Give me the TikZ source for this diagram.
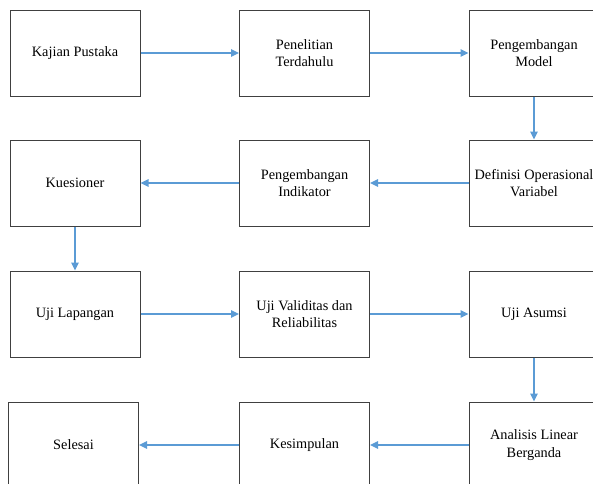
\documentclass[tikz,border=0pt]{standalone}
\usepackage{fontspec}
\setmainfont{Liberation Serif}
\usetikzlibrary{arrows.meta}
\definecolor{arrowblue}{RGB}{91,155,213}
\definecolor{boxgray}{RGB}{64,64,64}
\begin{document}
\begin{tikzpicture}[x=1pt,y=-1pt,
  box/.style={draw=boxgray,line width=1pt,minimum width=130pt,minimum height=86pt,
    inner sep=0pt,align=center,font=\fontsize{14.3}{17.4}\selectfont,text=black},
  link/.style={draw=arrowblue,line width=1.4pt,-{Triangle[length=8pt,width=7.5pt]}}]
\clip (0,0) rectangle (593,483);
\useasboundingbox (0,0) rectangle (593,483);
\node[box] (kp) at (75,53) {Kajian Pustaka};
\node[box] (pt) at (304.5,53) {Penelitian\\Terdahulu};
\node[box] (pm) at (534,53) {Pengembangan\\Model};
\node[box] (dov) at (534,183) {Definisi Operasional\\Variabel};
\node[box] (pi) at (304.5,183) {Pengembangan\\Indikator};
\node[box] (ku) at (75,183) {Kuesioner};
\node[box] (ul) at (75,314) {Uji Lapangan};
\node[box] (uv) at (304.5,314) {Uji Validitas dan\\Reliabilitas};
\node[box] (ua) at (534,314) {Uji Asumsi};
\node[box] (al) at (534,445) {Analisis Linear\\Berganda};
\node[box] (ke) at (304.5,445) {Kesimpulan};
\node[box] (se) at (73.5,445) {Selesai};
\draw[link] (kp) -- (pt);
\draw[link] (pt) -- (pm);
\draw[link] (pm) -- (dov);
\draw[link] (dov) -- (pi);
\draw[link] (pi) -- (ku);
\draw[link] (ku) -- (ul);
\draw[link] (ul) -- (uv);
\draw[link] (uv) -- (ua);
\draw[link] (ua) -- (al);
\draw[link] (al) -- (ke);
\draw[link] (ke) -- (se);
\end{tikzpicture}
\end{document}
